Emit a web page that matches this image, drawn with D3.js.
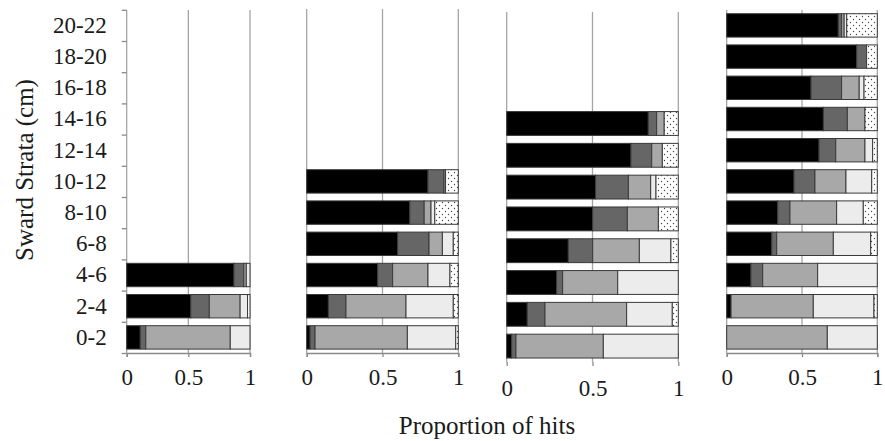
<!DOCTYPE html>
<html>
<head>
<meta charset="utf-8">
<script src="https://cdn.jsdelivr.net/npm/d3@7"></script>
<style>
  body { margin: 0; background: #fff; }
  svg text { font-family: "Times New Roman", "Liberation Serif", Tinos, Times, serif !important; fill: #1a1a1a; }
</style>
</head>
<body>
<div id="chart"></div>
<script>
// sward strata, bottom to top
var strata = ["0-2", "2-4", "4-6", "6-8", "8-10", "10-12", "12-14", "14-16", "16-18", "18-20", "20-22"];
// five components of each bar, left to right (black, dark grey, grey, light grey, dotted)
var components = ["c1", "c2", "c3", "c4", "c5"];
var xTicks = [0, 0.5, 1];

// proportion of hits per stratum, one row per stratum from 0-2 upward
var panel1 = [
  [0.11, 0.045, 0.685, 0.16, 0],
  [0.52, 0.15, 0.25, 0.06, 0.02],
  [0.87, 0.08, 0.02, 0.03, 0]
];
var panel2 = [
  [0.022, 0.033, 0.609, 0.319, 0.017],
  [0.143, 0.116, 0.396, 0.312, 0.033],
  [0.468, 0.099, 0.233, 0.145, 0.055],
  [0.60, 0.207, 0.088, 0.072, 0.033],
  [0.68, 0.095, 0.045, 0.025, 0.155],
  [0.80, 0.106, 0.01, 0, 0.084]
];
var panel3 = [
  [0.029, 0.025, 0.509, 0.437, 0],
  [0.12, 0.103, 0.476, 0.266, 0.035],
  [0.291, 0.035, 0.321, 0.353, 0],
  [0.359, 0.142, 0.272, 0.184, 0.043],
  [0.501, 0.202, 0.181, 0, 0.116],
  [0.518, 0.191, 0.13, 0.031, 0.13],
  [0.724, 0.121, 0.062, 0, 0.093],
  [0.825, 0.049, 0.044, 0, 0.082]
];
var panel4 = [
  [0, 0, 0.668, 0.332, 0],
  [0.029, 0, 0.546, 0.403, 0.022],
  [0.161, 0.078, 0.365, 0.396, 0],
  [0.299, 0.033, 0.376, 0.248, 0.044],
  [0.339, 0.081, 0.31, 0.177, 0.093],
  [0.447, 0.139, 0.206, 0.171, 0.037],
  [0.613, 0.111, 0.194, 0.051, 0.031],
  [0.642, 0.159, 0.117, 0, 0.082],
  [0.56, 0.203, 0.117, 0.032, 0.088],
  [0.863, 0.066, 0, 0, 0.071],
  [0.741, 0.022, 0.017, 0.017, 0.203]
];

var width = 885, height = 441;
var svg = d3.select("#chart").append("svg")
    .attr("width", width)
    .attr("height", height);

var defs = svg.append("defs");
var pat = defs.append("pattern")
    .attr("id", "dots")
    .attr("patternUnits", "userSpaceOnUse")
    .attr("width", 6)
    .attr("height", 6);
pat.append("rect").attr("width", 6).attr("height", 6).attr("fill", "#fff");
pat.append("circle").attr("cx", 1.5).attr("cy", 1.5).attr("r", 0.7).attr("fill", "#444");
pat.append("circle").attr("cx", 4.5).attr("cy", 4.5).attr("r", 0.7).attr("fill", "#444");

var color = d3.scaleOrdinal()
    .domain(components)
    .range(["#000000", "#666666", "#a8a8a8", "#ececec", "url(#dots)"]);

// layout of the four panels
var panels = [
  {data: panel1, x0: 126.7, x1: 250, bottom: 353, step: 31.2, top: 10, yTicks: true, domain: true, pad: 12},
  {data: panel2, x0: 306.7, x1: 458.3, bottom: 353, step: 31.2, top: 9, yTicks: false, domain: true, pad: 12},
  {data: panel3, x0: 506.7, x1: 678.3, bottom: 362, step: 31.8, top: 12, yTicks: false, domain: false, pad: 14},
  {data: panel4, x0: 726.7, x1: 877.3, bottom: 353, step: 31.2, top: 10, yTicks: false, domain: true, pad: 12}
];

var stack = d3.stack().keys(components);

panels.forEach(function(p) {
  var n = p.data.length;
  var cats = strata.slice(0, n);
  var rows = p.data.map(function(r, i) {
    var o = {stratum: cats[i]};
    components.forEach(function(k, j) { o[k] = r[j]; });
    return o;
  });

  var x = d3.scaleLinear().domain([0, 1]).range([p.x0, p.x1]);
  var y = d3.scaleBand()
      .domain(cats)
      .range([p.bottom, p.bottom - n * p.step])
      .paddingInner(0.25)
      .paddingOuter(0.125);

  var g = svg.append("g");

  // vertical grid lines at 0.5 and 1
  g.selectAll(".grid").data([0.5, 1]).enter().append("line")
      .attr("x1", function(d) { return x(d); })
      .attr("x2", function(d) { return x(d); })
      .attr("y1", p.top)
      .attr("y2", p.bottom)
      .attr("stroke", "#a5a5a5")
      .attr("stroke-width", 1.3);

  // left axis line
  g.append("line")
      .attr("x1", x(0)).attr("x2", x(0))
      .attr("y1", p.top).attr("y2", p.bottom)
      .attr("stroke", "#a5a5a5")
      .attr("stroke-width", 1.3);

  // stacked bars
  var series = stack(rows);
  g.selectAll(".layer").data(series).enter().append("g")
      .attr("fill", function(d) { return color(d.key); })
    .selectAll("rect").data(function(d) { return d.filter(function(s) { return s[1] - s[0] > 0; }); })
    .enter().append("rect")
      .attr("x", function(d) { return x(d[0]); })
      .attr("width", function(d) { return x(d[1]) - x(d[0]); })
      .attr("y", function(d) { return y(d.data.stratum); })
      .attr("height", y.bandwidth())
      .attr("stroke", "#3a3a3a")
      .attr("stroke-width", 1);

  // x axis
  var xAxis = g.append("g")
      .attr("transform", "translate(0," + p.bottom + ")")
      .call(d3.axisBottom(x).tickValues(xTicks).tickFormat(function(d) { return d; })
        .tickSize(4).tickPadding(p.pad));
  xAxis.attr("font-family", null);
  xAxis.selectAll(".tick line").attr("stroke", "#8a8a8a").attr("stroke-width", 1.3);
  xAxis.selectAll("text").style("font-size", "23px");
  if (p.domain) {
    xAxis.select(".domain").attr("stroke", "#8a8a8a").attr("stroke-width", 1.3);
  } else {
    xAxis.select(".domain").remove();
  }

  if (p.yTicks) {
    // boundary ticks
    var yEdges = d3.scaleLinear().domain([0, strata.length])
        .range([p.bottom, p.bottom - strata.length * p.step]);
    var yt = g.append("g")
        .attr("transform", "translate(" + x(0) + ",0)")
        .call(d3.axisLeft(yEdges).ticks(strata.length).tickFormat("").tickSize(5));
    yt.select(".domain").remove();
    yt.selectAll(".tick line").attr("stroke", "#8a8a8a").attr("stroke-width", 1.3);

    // stratum labels
    var yFull = d3.scaleBand().domain(strata)
        .range([p.bottom, p.bottom - strata.length * p.step]);
    var yl = g.append("g")
        .attr("transform", "translate(" + x(0) + ",0)")
        .call(d3.axisLeft(yFull).tickSize(0).tickPadding(20));
    yl.attr("font-family", null);
    yl.select(".domain").remove();
    yl.selectAll("text").style("font-size", "23px");
  }
});

svg.append("text")
    .attr("x", 487)
    .attr("y", 434)
    .attr("text-anchor", "middle")
    .style("font-size", "25px")
    .text("Proportion of hits");

svg.append("text")
    .attr("transform", "translate(33,170) rotate(-90)")
    .attr("text-anchor", "middle")
    .style("font-size", "25px")
    .text("Sward Strata (cm)");
</script>
</body>
</html>
